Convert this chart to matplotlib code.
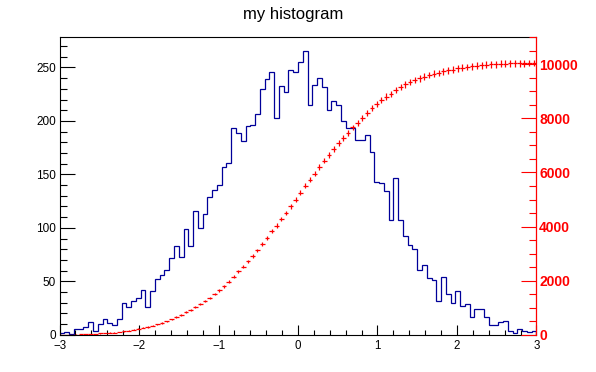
import numpy as np
import matplotlib
matplotlib.use("Agg")
import matplotlib.pyplot as plt
from matplotlib.ticker import MultipleLocator

plt.rcParams['font.family'] = ['Liberation Sans', 'DejaVu Sans']

title = "my histogram"
x_min, x_max = -3.0, 3.0
counts = [
    2, 3, 1, 5, 5, 7, 12, 4, 10, 15,
    11, 9, 15, 30, 26, 32, 34, 42, 26, 41,
    52, 56, 61, 72, 83, 73, 99, 83, 116, 100,
    113, 129, 135, 140, 157, 161, 193, 189, 181, 195,
    196, 206, 230, 239, 246, 203, 233, 227, 248, 246,
    255, 265, 215, 234, 240, 232, 210, 219, 215, 200,
    193, 193, 182, 182, 187, 171, 143, 142, 134, 107,
    147, 107, 92, 84, 80, 61, 65, 53, 51, 32,
    54, 38, 30, 41, 27, 29, 17, 24, 24, 17,
    9, 9, 12, 13, 4, 2, 5, 4, 3, 4,
]
right_max = 11000

counts = np.array(counts, dtype=float)
nb = len(counts)
edges = np.linspace(x_min, x_max, nb + 1)
centers = 0.5 * (edges[:-1] + edges[1:])
cum = np.cumsum(counts)

fig = plt.figure(figsize=(5.96, 3.72), dpi=100)
ax = fig.add_axes([0.1, 0.1, 0.8, 0.8])

ax.stairs(counts, edges, color='#000099', linewidth=0.9, baseline=0)
ax.set_xlim(x_min, x_max)
ax.set_ylim(0, 1.05 * counts.max())

ax.xaxis.set_major_locator(MultipleLocator(1))
ax.xaxis.set_minor_locator(MultipleLocator(0.2))
ax.yaxis.set_major_locator(MultipleLocator(50))
ax.yaxis.set_minor_locator(MultipleLocator(10))
ax.tick_params(axis='both', which='both', direction='in', top=False, right=False)
ax.tick_params(axis='x', which='major', length=7.2, width=0.8, labelsize=8.3, pad=4)
ax.tick_params(axis='x', which='minor', length=3.6, width=0.8)
ax.tick_params(axis='y', which='major', length=10.6, width=0.8, labelsize=8.5, pad=2.5)
ax.tick_params(axis='y', which='minor', length=5.2, width=0.8)
for s in ['left', 'bottom', 'top']:
    ax.spines[s].set_linewidth(0.8)
ax.spines['right'].set_visible(False)

ax2 = ax.twinx()
ax2.errorbar(centers, cum, xerr=(edges[1] - edges[0]) / 2, yerr=np.sqrt(cum) * 1.25,
             fmt='none', ecolor='red', elinewidth=0.9, capsize=0)
ax2.set_ylim(0, right_max)
ax2.yaxis.set_major_locator(MultipleLocator(2000))
ax2.yaxis.set_minor_locator(MultipleLocator(500))
ax2.tick_params(axis='y', which='both', direction='in', colors='red')
ax2.tick_params(axis='y', which='major', length=10.6, width=0.8, labelsize=10, pad=2)
ax2.tick_params(axis='y', which='minor', length=5.2, width=0.8)
for lab in ax2.get_yticklabels():
    lab.set_fontweight('bold')
for s in ['left', 'bottom', 'top']:
    ax2.spines[s].set_visible(False)
ax2.spines['right'].set_color('red')
ax2.spines['right'].set_linewidth(0.9)

fig.text(293 / 596, 1 - 19.5 / 372, title, ha='center', va='baseline', fontsize=12)

fig.savefig('out.png', dpi=100)
